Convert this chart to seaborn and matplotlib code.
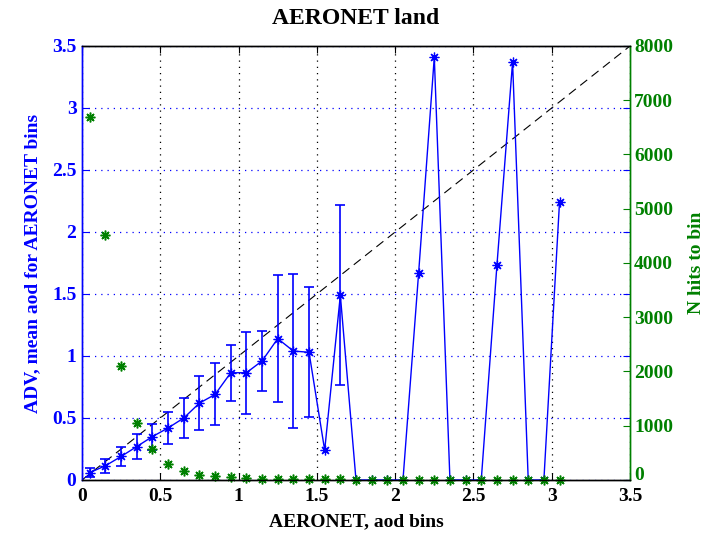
import matplotlib
matplotlib.use("Agg")
import matplotlib.pyplot as plt
import matplotlib.ticker as mticker
import matplotlib.transforms as mtransforms
import numpy as np
import pandas as pd
import seaborn as sns

# ---------------- data ----------------
bin_centers = [0.05, 0.15, 0.25, 0.35, 0.45, 0.55, 0.65, 0.75, 0.85, 0.95,
               1.05, 1.15, 1.25, 1.35, 1.45, 1.55, 1.65, 1.75, 1.85, 1.95,
               2.05, 2.15, 2.25, 2.35, 2.45, 2.55, 2.65, 2.75, 2.85, 2.95,
               3.05]
mean_adv = [0.06, 0.115, 0.19, 0.27, 0.35, 0.42, 0.50, 0.62, 0.69, 0.865,
            0.865, 0.96, 1.14, 1.04, 1.03, 0.24, 1.49, 0, 0, 0,
            0, 1.67, 3.41, 0, 0, 0, 1.73, 3.37, 0, 0,
            2.245]
std_adv = [0.035, 0.055, 0.075, 0.10, 0.105, 0.13, 0.165, 0.22, 0.25, 0.225,
           0.33, 0.24, 0.51, 0.62, 0.525, 0, 0.725, 0, 0, 0,
           0, 0, 0, 0, 0, 0, 0, 0, 0, 0,
           0]
n_hits = [6700, 4520, 2100, 1045, 570, 300, 170, 100, 80, 55,
          30, 25, 20, 18, 15, 12, 10, 8, 6, 5,
          4, 4, 3, 3, 2, 2, 2, 1, 1, 1,
          1]
x_ticks = [0, 0.5, 1, 1.5, 2, 2.5, 3, 3.5]
left_ticks = [0, 0.5, 1, 1.5, 2, 2.5, 3, 3.5]
right_ticks = [0, 1000, 2000, 3000, 4000, 5000, 6000, 7000, 8000]

title = "AERONET land"
xlabel = "AERONET, aod bins"
ylabel_left = "ADV, mean aod for AERONET bins"
ylabel_right = "N hits to bin"

df = pd.DataFrame({"bin": bin_centers, "mean": mean_adv, "std": std_adv, "n": n_hits})
err = df[df["std"] > 0]

# ---------------- style ----------------
sns.set_style("white")
plt.rcParams["font.family"] = ["Liberation Serif", "DejaVu Serif"]
plt.rcParams["font.weight"] = "bold"
plt.rcParams["text.color"] = "black"

BLUE = "#0000ff"
GREEN = "#008000"
AST = (8, 2, 0)

fig = plt.figure(figsize=(7.05, 5.39), dpi=100)
ax = fig.add_axes([82 / 705, 1 - 480 / 539, (630 - 82) / 705, (480 - 46) / 539])
ax2 = ax.twinx()
ax.set_zorder(1)
ax2.set_zorder(2)
ax.patch.set_visible(False)
fig.patch.set_facecolor("white")

# 1:1 reference
ax.axline((0, 0), slope=1, color="black", lw=0.8, ls=(0, (8, 5)), zorder=2)

# mean curve
sns.lineplot(data=df, x="bin", y="mean", ax=ax, color=BLUE, lw=1.0,
             marker=AST, markersize=7, markeredgewidth=0.9,
             markeredgecolor=BLUE, zorder=3)
ax.errorbar(err["bin"], err["mean"], yerr=err["std"], fmt="none",
            ecolor=BLUE, elinewidth=1.2, capsize=3.5, capthick=1.2, zorder=3)

# N hits
sns.lineplot(data=df, x="bin", y="n", ax=ax2, color=GREEN, lw=0, linestyle="none",
             marker=AST, markersize=7, markeredgewidth=1.1,
             markeredgecolor=GREEN, clip_on=False)

# limits and ticks
ax.set_xlim(0, 3.5)
ax.set_ylim(0, 3.5)
ax2.set_ylim(0, 8000)
ax.set_xticks(x_ticks)
ax.set_yticks(left_ticks)
ax2.set_yticks(right_ticks)
fmt = mticker.FuncFormatter(lambda v, p: f"{v:g}")
ax.xaxis.set_major_formatter(fmt)
ax.yaxis.set_major_formatter(fmt)
ax2.yaxis.set_major_formatter(mticker.FuncFormatter(lambda v, p: f"{int(v)}"))

ax.xaxis.grid(True, color="black", ls=(0, (1, 4)), lw=0.9)
ax.yaxis.grid(True, color=BLUE, ls=(0, (1, 4)), lw=0.9)

ax.tick_params(axis="x", direction="in", top=True, bottom=True, length=5,
               colors="black", labelsize=14, pad=6)
ax.tick_params(axis="y", direction="in", left=True, right=True, labelright=False,
               length=5, colors=BLUE, labelsize=14, pad=4)
ax2.tick_params(axis="y", direction="in", right=True, length=5, colors=GREEN,
                labelsize=14, pad=3)
for lab in ax.get_xticklabels() + ax.get_yticklabels() + ax2.get_yticklabels():
    lab.set_fontweight("bold")

# lift the right-hand "0" a little, as in the reference
zero_lab = ax2.yaxis.get_major_ticks()[0].label2
zero_lab.set_verticalalignment("bottom")
zero_lab.set_transform(zero_lab.get_transform() +
                       mtransforms.ScaledTranslation(0, -3 / 72, fig.dpi_scale_trans))

for a in (ax, ax2):
    a.spines["top"].set_color("black")
    a.spines["bottom"].set_color("black")
    a.spines["left"].set_color(BLUE)
    a.spines["right"].set_color(GREEN)
    for s in a.spines.values():
        s.set_linewidth(1.0)

ax.set_xlabel("")
ax.set_ylabel("")
ax2.set_ylabel("")
ax.set_title(title, fontsize=17, fontweight="bold", color="black", pad=16)
fig.text(356 / 705, 1 - 522 / 539, xlabel, ha="center", va="center",
         fontsize=14, fontweight="bold", color="black")
fig.text(33 / 705, 1 - 263 / 539, ylabel_left, ha="center", va="center",
         rotation=90, fontsize=14, fontweight="bold", color=BLUE)
fig.text(688 / 705, 1 - 263 / 539, ylabel_right, ha="left", va="center",
         rotation=90, fontsize=14, fontweight="bold", color=GREEN)

fig.savefig("out.png", dpi=100, facecolor="white")
